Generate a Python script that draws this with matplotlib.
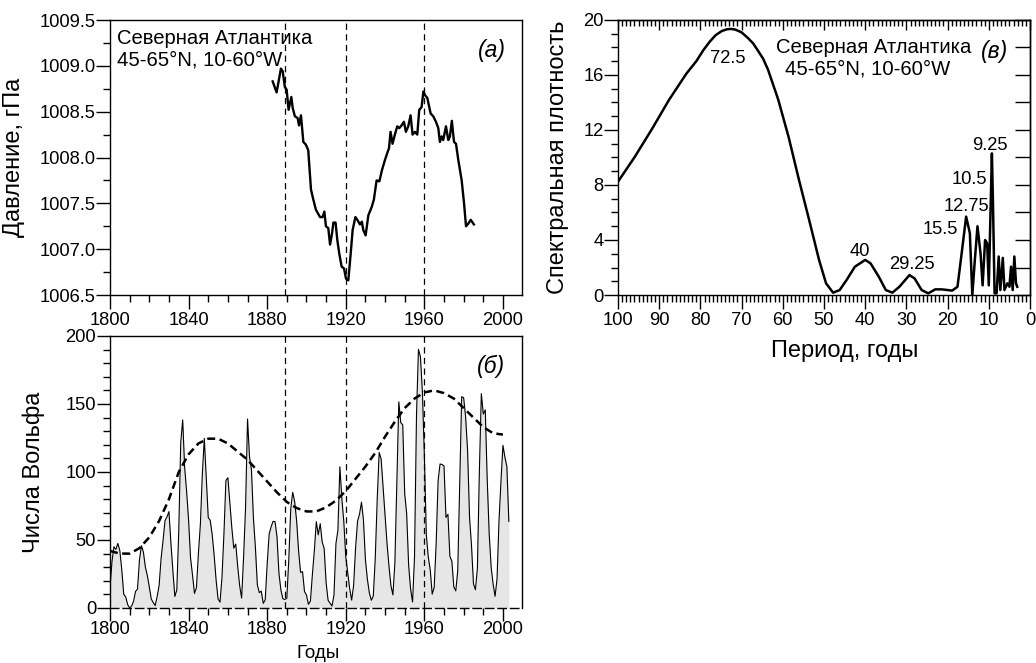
import matplotlib
matplotlib.use("Agg")
import matplotlib.pyplot as plt
from matplotlib.ticker import MultipleLocator, FixedLocator

plt.rcParams['font.family'] = ['Liberation Sans', 'DejaVu Sans']

# ---------------- data ----------------
# (a) sea-level pressure, North Atlantic
press_years = [1882.8, 1884.8, 1887.0, 1887.9, 1889.0, 1889.9, 1890.9, 1892.3, 1893.0, 1894.1,
               1895.5, 1896.2, 1897.2, 1898.4, 1899.7, 1900.9, 1902.3, 1903.5, 1904.8, 1906.9,
               1908.2, 1909.1, 1909.9, 1911.1, 1912.0, 1913.0, 1913.7, 1914.8, 1915.7, 1916.7,
               1917.9, 1919.1, 1920.1, 1921.3, 1922.5, 1923.5, 1924.9, 1925.9, 1927.2, 1928.2,
               1928.9, 1930.1, 1931.5, 1933.2, 1934.3, 1935.7, 1937.1, 1938.4, 1939.9, 1941.3,
               1942.0, 1942.8, 1943.8, 1945.0, 1946.2, 1947.2, 1948.4, 1949.6, 1950.6, 1951.8,
               1953.0, 1954.0, 1955.2, 1956.4, 1957.4, 1958.6, 1959.5, 1960.3, 1961.5, 1962.5,
               1963.2, 1964.5, 1965.9, 1967.1, 1967.9, 1968.8, 1969.6, 1971.0, 1972.2, 1973.0,
               1974.0, 1975.1, 1976.1, 1977.3, 1979.0, 1980.2, 1981.2, 1982.4, 1983.6, 1985.2]
press_values = [1008.83, 1008.71, 1008.97, 1008.94, 1008.77, 1008.74, 1008.52, 1008.66, 1008.54, 1008.45,
                1008.43, 1008.35, 1008.46, 1008.17, 1008.14, 1008.08, 1007.65, 1007.54, 1007.43, 1007.35,
                1007.35, 1007.41, 1007.25, 1007.23, 1007.05, 1007.17, 1007.29, 1007.29, 1007.10, 1006.95,
                1006.81, 1006.79, 1006.68, 1006.66, 1006.95, 1007.21, 1007.35, 1007.32, 1007.27, 1007.30,
                1007.21, 1007.15, 1007.37, 1007.46, 1007.54, 1007.75, 1007.74, 1007.86, 1007.97, 1008.06,
                1008.10, 1008.28, 1008.15, 1008.25, 1008.34, 1008.32, 1008.35, 1008.39, 1008.28, 1008.34,
                1008.46, 1008.25, 1008.28, 1008.25, 1008.52, 1008.55, 1008.72, 1008.68, 1008.65, 1008.55,
                1008.48, 1008.45, 1008.39, 1008.32, 1008.17, 1008.23, 1008.19, 1008.34, 1008.19, 1008.23,
                1008.40, 1008.17, 1008.15, 1007.97, 1007.75, 1007.50, 1007.25, 1007.28, 1007.32, 1007.27]

# (б) Wolf numbers, annual, 1800-2003
wolf_start = 1800
wolf_values = [14.5, 34.0, 45.0, 43.1, 47.5, 42.2, 28.1, 10.1, 8.1, 2.5,
               0.0, 1.4, 5.0, 12.2, 13.9, 35.4, 45.8, 41.1, 30.1, 23.9,
               15.6, 6.6, 4.0, 1.8, 8.5, 16.6, 36.3, 49.6, 64.2, 67.0,
               70.9, 47.8, 27.5, 8.5, 13.2, 56.9, 121.5, 138.3, 103.2, 85.7,
               64.6, 36.7, 24.2, 10.7, 15.0, 40.1, 61.5, 98.5, 124.7, 96.3,
               66.6, 64.5, 54.1, 39.0, 20.6, 6.7, 4.3, 22.7, 54.8, 93.8,
               95.8, 77.2, 59.1, 44.0, 47.0, 30.5, 16.3, 7.3, 37.6, 74.0,
               139.0, 111.2, 101.6, 66.2, 44.7, 17.0, 11.3, 12.4, 3.4, 6.0,
               32.3, 54.3, 59.7, 63.7, 63.5, 52.2, 25.4, 13.1, 6.8, 6.3,
               7.1, 35.6, 73.0, 85.1, 78.0, 64.0, 41.8, 26.2, 26.7, 12.1,
               9.5, 2.7, 5.0, 24.4, 42.0, 63.5, 53.8, 62.0, 48.5, 43.9,
               18.6, 5.7, 3.6, 1.4, 9.6, 47.4, 57.1, 103.9, 80.6, 63.6,
               37.6, 26.1, 14.2, 5.8, 16.7, 44.3, 63.9, 69.0, 77.8, 64.9,
               35.7, 21.2, 11.1, 5.7, 8.7, 36.1, 79.7, 114.4, 109.6, 88.8,
               67.8, 47.5, 30.6, 16.3, 9.6, 33.2, 92.6, 151.6, 136.3, 134.7,
               83.9, 69.4, 31.5, 13.9, 4.4, 38.0, 141.7, 190.2, 184.8, 159.0,
               112.3, 53.9, 37.5, 27.9, 10.2, 15.1, 47.0, 93.8, 105.9, 105.5,
               104.5, 66.6, 68.9, 38.0, 34.5, 15.5, 12.6, 27.5, 92.5, 155.4,
               154.6, 140.5, 115.9, 66.6, 45.9, 17.9, 13.4, 29.4, 100.2, 157.6,
               142.6, 145.7, 94.3, 54.6, 29.9, 17.5, 8.6, 21.5, 64.3, 93.3,
               119.6, 111.0, 104.0, 63.7]
wolf_years = list(range(wolf_start, wolf_start + len(wolf_values)))

# smoothed (long-period) component of Wolf numbers
smooth_years = [1800, 1805, 1810, 1815, 1820, 1825, 1830, 1835, 1840, 1845, 1850, 1855, 1860, 1865,
                1870, 1875, 1880, 1885, 1890, 1895, 1900, 1905, 1910, 1915, 1920, 1925, 1930, 1935,
                1940, 1945, 1950, 1955, 1960, 1965, 1970, 1975, 1980, 1985, 1990, 1995, 2000]
smooth_values = [42, 40, 40, 44, 52, 64, 80, 100, 113, 121, 124.5, 124.5, 121, 115,
                 109, 101, 93, 85, 78, 73.5, 71, 71, 74, 79, 86, 95, 104, 114,
                 126, 137, 147, 154, 158.5, 160, 158, 154, 147, 140, 133, 128.5, 127.5]

# epochs marked by vertical dashed lines
epoch_years = [1889, 1920, 1960]

# (в) spectral density vs period
spec_period = [100, 95.9, 91.7, 87.6, 83.4, 81.0, 79.3, 77.8, 76.3, 74.8, 73.5, 72.5, 71.5, 70.0,
               68.5, 67.2, 66.1, 64.8, 63.6, 61.1,
               58.6, 56.1, 53.6, 51.2, 49.5, 47.8, 46.2, 44.5, 42.5, 40.0, 38.7, 36.7, 35.0, 33.4,
               31.7, 29.25, 28.0, 26.3, 24.7, 23.0, 21.4, 18.9, 17.6, 16.6, 15.5, 14.6, 14.0, 13.4,
               12.75, 12.0, 11.5, 10.9, 10.4, 10.0, 9.25, 9.0, 8.6, 8.1, 7.6, 7.2, 6.6, 6.2,
               5.5, 5.0, 4.6, 4.2, 3.8, 3.4, 3.1]
spec_values = [8.24, 10.06, 12.1, 14.2, 16.1, 17.0, 17.8, 18.4, 18.9, 19.2, 19.33, 19.35, 19.3, 19.1,
               18.7, 18.3, 17.8, 17.2, 16.4, 14.2,
               11.5, 8.4, 5.45, 2.55, 0.85, 0.17, 0.36, 1.1, 2.06, 2.55, 2.3, 1.33, 0.36, 0.17,
               0.6, 1.45, 1.2, 0.36, 0.12, 0.41, 0.41, 0.32, 0.6, 3.0, 5.7, 4.5, 0.0, 2.5,
               5.0, 3.0, 0.7, 4.0, 3.75, 0.7, 10.3, 6.9, 0.12, 0.12, 2.8, 0.36, 2.7, 0.36,
               0.85, 0.6, 2.06, 0.36, 2.8, 0.85, 0.6]
peak_labels = ['72.5', '40', '29.25', '15.5', '12.75', '10.5', '9.25']

# ---------------- figure ----------------
W, H = 1036, 663
fig = plt.figure(figsize=(W / 100, H / 100), dpi=100)

def rect(l, t, r, b):
    return [l / W, 1 - b / H, (r - l) / W, (b - t) / H]

B_BOTTOM = 608
ax_a = fig.add_axes(rect(110, 20, 522, 295))
ax_b = fig.add_axes(rect(110, 336, 522, B_BOTTOM))
ax_c = fig.add_axes(rect(618, 20, 1030, 295))

TICK_FS = 13.2
LAB_FS = 17
TXT_FS = 14.6
PAN_FS = 16.5

def style_common(ax):
    for s in ax.spines.values():
        s.set_linewidth(1.0)
    ax.tick_params(which='both', labelsize=TICK_FS, width=1.0, color='black')

# ----- (a)
ax = ax_a
style_common(ax)
ax.plot(press_years, press_values, color='black', lw=1.7)
for yv in epoch_years:
    ax.axvline(yv, color='black', lw=0.9, ls=(0, (5, 3.5)))
ax.set_xlim(1800, 2009.7)
ax.set_ylim(1006.5, 1009.5)
ax.xaxis.set_major_locator(MultipleLocator(40))
ax.xaxis.set_minor_locator(MultipleLocator(10))
ax.yaxis.set_major_locator(MultipleLocator(0.5))
ax.yaxis.set_minor_locator(MultipleLocator(0.25))
ax.yaxis.set_major_formatter(matplotlib.ticker.FormatStrFormatter('%.1f'))
ax.tick_params(which='major', direction='out', length=10, pad=2)
ax.tick_params(which='minor', direction='out', length=5)
ax.tick_params(axis='y', which='major', pad=0.5)
ax.set_ylabel('Давление, гПа', fontsize=LAB_FS)
ax.yaxis.set_label_coords(-0.206, 0.5)
ax.text(0.017, 0.931, 'Северная Атлантика', transform=ax.transAxes,
        fontsize=TXT_FS, va='center', ha='left')
ax.text(0.017, 0.855, '45-65°N, 10-60°W', transform=ax.transAxes,
        fontsize=TXT_FS, va='center', ha='left')
ax.text(0.96, 0.89, '(а)', transform=ax.transAxes, fontsize=PAN_FS, style='italic',
        ha='right', va='center')

# ----- (б)
ax = ax_b
style_common(ax)
ax.fill_between(wolf_years, wolf_values, 0, color='#e6e6e6', lw=0)
ax.plot(wolf_years, wolf_values, color='black', lw=0.8)
ax.plot(smooth_years, smooth_values, color='black', lw=1.8, ls=(0, (3.2, 1.8)))
for yv in epoch_years:
    ax.axvline(yv, color='black', lw=0.9, ls=(0, (5, 3.5)))
ax.set_xlim(1800, 2009.7)
ax.set_ylim(0, 200)
ax.xaxis.set_major_locator(MultipleLocator(40))
ax.xaxis.set_minor_locator(MultipleLocator(10))
ax.yaxis.set_major_locator(MultipleLocator(50))
ax.yaxis.set_minor_locator(MultipleLocator(10))
ax.tick_params(which='major', direction='out', length=9.5, pad=0)
ax.tick_params(which='minor', direction='out', length=5)
ax.tick_params(axis='y', which='major', pad=0.5)
ax.spines['bottom'].set_linestyle((0, (6, 3)))
ax.set_ylabel('Числа Вольфа', fontsize=LAB_FS)
ax.yaxis.set_label_coords(-0.158, 0.5)
ax.set_xlabel('Годы', fontsize=13.5, va='bottom')
b_h = B_BOTTOM - 336
ax.xaxis.set_label_coords(0.505, -(662.5 - B_BOTTOM) / b_h)
ax.text(0.96, 0.888, '(б)', transform=ax.transAxes, fontsize=PAN_FS, style='italic',
        ha='right', va='center')

# ----- (в)
ax = ax_c
style_common(ax)
ax.plot(spec_period, spec_values, color='black', lw=1.8)
ax.set_xlim(100, 0)
ax.set_ylim(0, 20)
ax.xaxis.set_major_locator(MultipleLocator(10))
ax.xaxis.set_minor_locator(MultipleLocator(1))
ax.yaxis.set_major_locator(MultipleLocator(4))
ax.yaxis.set_minor_locator(MultipleLocator(1))
ax.tick_params(axis='x', which='major', direction='out', length=10, pad=2, top=False)
ax.tick_params(axis='x', which='minor', direction='out', length=5, top=False)
ax.tick_params(axis='y', which='major', direction='out', length=10, pad=0.5, right=False)
ax.tick_params(axis='y', which='minor', direction='out', length=5, right=False)
# inner ticks on top and right
sec_top = ax.secondary_xaxis('top')
sec_top.xaxis.set_major_locator(MultipleLocator(10))
sec_top.xaxis.set_minor_locator(MultipleLocator(1))
sec_top.tick_params(which='major', direction='in', length=7, labeltop=False, width=1.0)
sec_top.tick_params(which='minor', direction='in', length=4, width=1.0)
sec_top.spines['top'].set_linewidth(1.0)
sec_right = ax.secondary_yaxis('right')
sec_right.yaxis.set_major_locator(MultipleLocator(2))
sec_right.yaxis.set_minor_locator(FixedLocator([]))
sec_right.tick_params(which='major', direction='in', length=11, labelright=False, width=1.0)
sec_right.spines['right'].set_linewidth(1.0)
ax.set_ylabel('Спектральная плотность', fontsize=LAB_FS)
ax.yaxis.set_label_coords(-0.119, 0.5)
ax.set_xlabel('Период, годы', fontsize=LAB_FS)
ax.xaxis.set_label_coords(0.55, -0.165)

peak_pos = [(73.3, 17.2), (41.4, 3.15), (28.6, 2.23), (21.8, 4.78), (15.4, 6.42), (14.6, 8.41), (9.8, 10.86)]
for lab, (px, py) in zip(peak_labels, peak_pos):
    ax.text(px, py, lab, fontsize=TICK_FS, ha='center', va='center')
ax.text(61.7, 18.0, 'Северная Атлантика', fontsize=TXT_FS, ha='left', va='center')
ax.text(59.5, 16.4, '45-65°N, 10-60°W', fontsize=TXT_FS, ha='left', va='center')
ax.text(0.915, 0.884, '(в)', transform=ax.transAxes, fontsize=PAN_FS, style='italic',
        ha='center', va='center')

fig.savefig('out.png', dpi=100)
